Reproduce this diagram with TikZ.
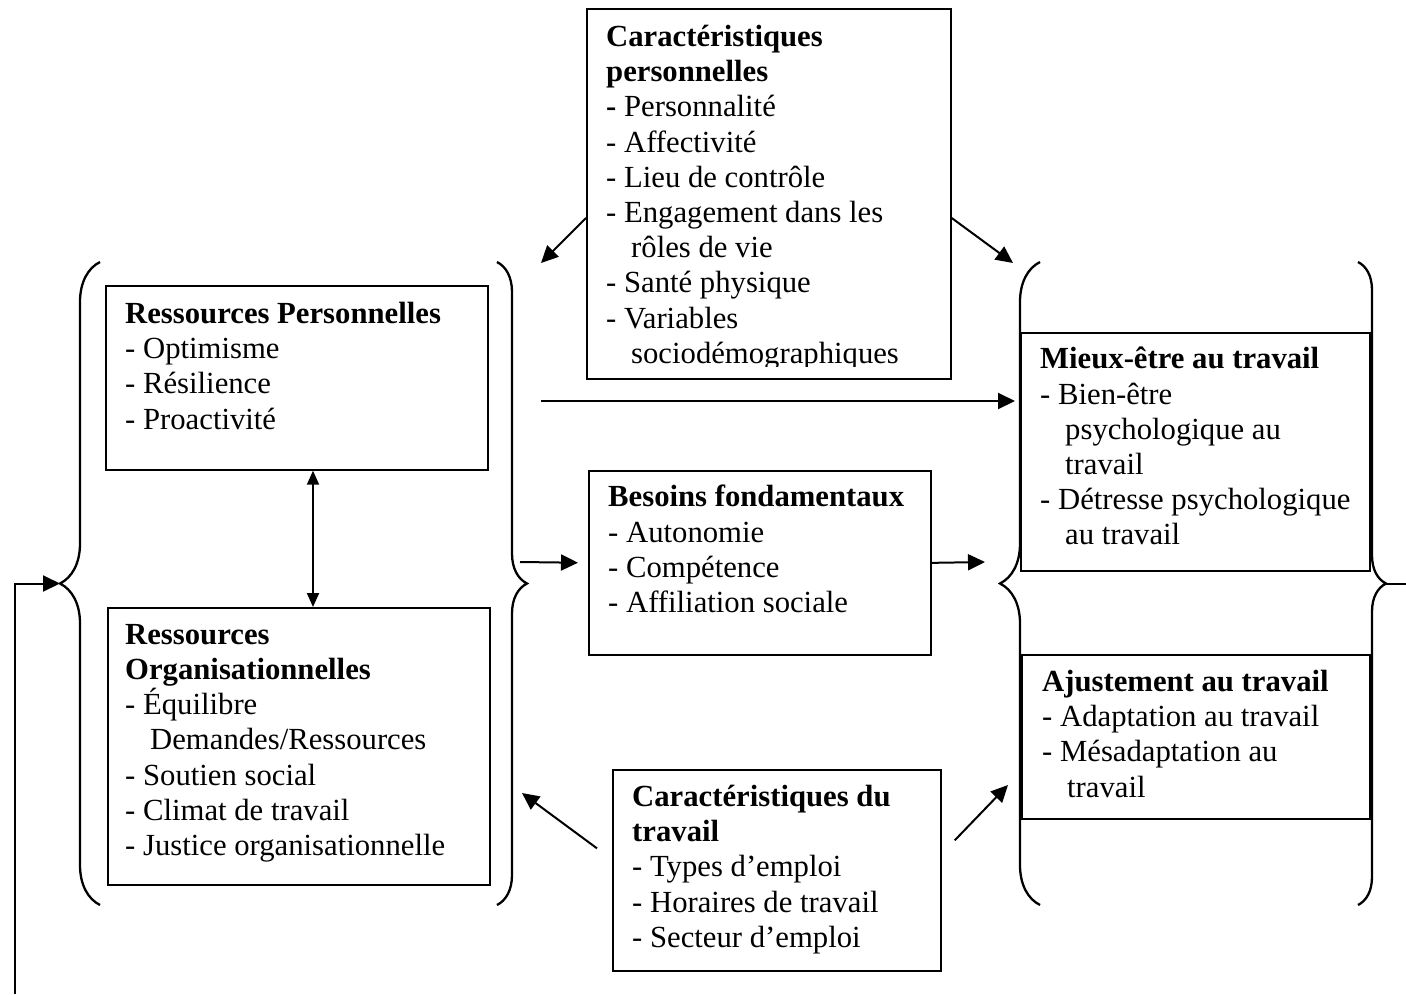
\documentclass[tikz,border=0pt]{standalone}
\usepackage{fontspec}
\setmainfont{Liberation Serif}
\usetikzlibrary{calc,arrows.meta,decorations.pathreplacing}

\tikzset{
  box/.style={draw, line width=1.7pt, anchor=north west, inner sep=0pt},
  txt/.style={anchor=north west, inner sep=0pt, align=left,
    font=\fontsize{30.7}{35.2}\selectfont},
  arr/.style={-{Triangle[length=17pt,width=16pt]}, line width=2pt},
  brc/.style={decorate, decoration={brace, amplitude=#1}, line width=2.3pt},
  brc/.default=40
}
\newcommand{\ind}{\hspace*{25pt}}

\begin{document}
\begin{tikzpicture}[x=1pt, y=-1pt]
    \useasboundingbox (0,0) rectangle (1406,994);

    % boites
    \node[box, minimum width=364pt, minimum height=370pt] (cp) at (586,8) {};
    \node[box, minimum width=382pt, minimum height=184pt] (rp) at (105,285) {};
    \node[box, minimum width=382pt, minimum height=277pt] (ro) at (107,607) {};
    \node[box, minimum width=342pt, minimum height=184pt] (bf) at (588,470) {};
    \node[box, minimum width=328pt, minimum height=201pt] (ct) at (612,769) {};
    \node[box, minimum width=349pt, minimum height=238pt] (me) at (1020,332) {};
    \node[box, minimum width=348pt, minimum height=164pt] (aj) at (1021,654) {};

    % textes
    \begin{scope}
        \clip (cp.north west) rectangle ($(cp.south east)+(0,-13)$);
        \node[txt] (cptxt) at ($(cp.north west)+(20,17)$) {\textbf{Caractéristiques}\\
            \textbf{personnelles}\\ \textbf{-} Personnalité\\ - Affectivité\\
            - Lieu de contrôle\\ - Engagement dans les\\ \ind rôles de vie\\
            - Santé physique\\ - Variables\\ \ind sociodémographiques};
    \end{scope}
    \node[txt] (rptxt) at ($(rp.north west)+(20,17)$) {\textbf{Ressources Personnelles}\\
        - Optimisme\\ - Résilience\\ - Proactivité};
    \node[txt] (rotxt) at ($(ro.north west)+(18,17)$) {\textbf{Ressources}\\
        \textbf{Organisationnelles}\\ - Équilibre\\ \ind Demandes/Ressources\\
        - Soutien social\\ - Climat de travail\\ - Justice organisationnelle};
    \node[txt] (bftxt) at ($(bf.north west)+(20,15)$) {\textbf{Besoins fondamentaux}\\
        - Autonomie\\ - Compétence\\ - Affiliation sociale};
    \node[txt] (cttxt) at ($(ct.north west)+(20,16)$) {\textbf{Caractéristiques du}\\
        \textbf{travail}\\ - Types d’emploi\\ - Horaires de travail\\ - Secteur d’emploi};
    \node[txt] (metxt) at ($(me.north west)+(20,15)$) {\textbf{Mieux-être au travail}\\
        - Bien-être\\ \ind psychologique au\\ \ind travail\\
        - Détresse psychologique\\ \ind au travail};
    \node[txt] (ajtxt) at ($(aj.north west)+(21,16)$) {\textbf{Ajustement au travail}\\
        - Adaptation au travail\\ - Mésadaptation au\\ \ind travail};

    % accolades
    \draw[brc=40] (100,905) -- (100,262);
    \draw[brc=30] (497,262) -- (497,905);
    \draw[brc=40] (1040,905) -- (1040,262);
    \draw[brc=28] (1358,262) -- (1358,905);
    \coordinate (lgl) at (60,583.5);
    \coordinate (lgr) at (527,583.5);
    \coordinate (rgl) at (1000,583.5);
    \coordinate (rgr) at (1386,583.5);

    % points libres
    \coordinate (p1) at (541,263);
    \coordinate (p2) at (1013,263);
    \coordinate (h1) at (541,401);
    \coordinate (h2) at (1015,401);
    \coordinate (b1) at (520,562);
    \coordinate (b2) at (985,562);
    \coordinate (t1) at (522,793);
    \coordinate (t2) at (1008,785);
    \coordinate (fb) at (15,994);
    \coordinate (ex) at (1406,583.5);

    % fleches
    \draw[arr] ($(cp.north west)+(0,210)$) -- (p1);
    \draw[arr] ($(cp.north east)+(0,210)$) -- (p2);
    \draw[arr] (h1) -- (h2);
    \draw[{Triangle[length=14pt,width=12pt]}-{Triangle[length=14pt,width=12pt]}, line width=2pt]
        ($(rp.south west)+(208,0)$) -- ($(ro.north west)+(206,0)$);
    \draw[arr, shorten >=10pt] (b1) -- (bf.west);
    \draw[arr] (bf.east) -- (b2);
    \draw[arr] ($(ct.west)+(-15,-22)$) -- (t1);
    \draw[arr] ($(ct.east)+(13,-30)$) -- (t2);
    \draw[arr] (fb) |- (lgl);
    \draw[line width=2pt] (rgr) -- (ex);
\end{tikzpicture}
\end{document}
